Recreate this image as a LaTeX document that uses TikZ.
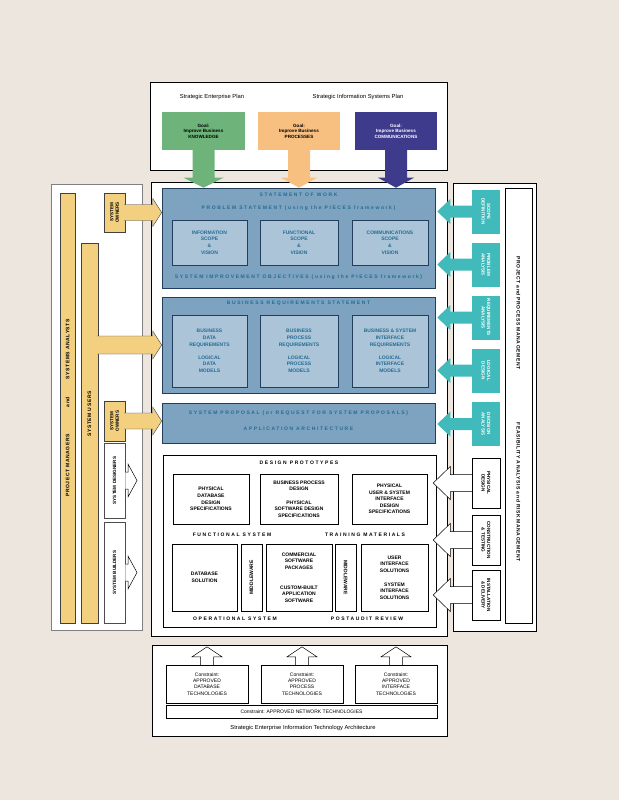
\documentclass[tikz,border=0pt]{standalone}
\usepackage{fontspec}
\setmainfont{Liberation Sans}
\newfontfamily\espace[LetterSpace=32]{Liberation Sans}
\newfontfamily\espacel[LetterSpace=12]{Liberation Sans}
\usetikzlibrary{calc}

\definecolor{cfond}{RGB}{236,230,222}
\definecolor{cjaune}{RGB}{243,207,128}
\definecolor{cvert}{RGB}{110,180,122}
\definecolor{corange}{RGB}{248,192,128}
\definecolor{cviolet}{RGB}{62,58,140}
\definecolor{cbleu}{RGB}{125,163,192}
\definecolor{cbleuclair}{RGB}{172,196,216}
\definecolor{cbleufonce}{RGB}{35,62,92}
\definecolor{ctextebleu}{RGB}{35,108,148}
\definecolor{cteal}{RGB}{64,186,186}

\newcommand{\txtboite}{\bfseries\fontsize{5}{6.6}\selectfont}
\newcommand{\txtpetit}{\bfseries\fontsize{4.6}{5.6}\selectfont}
\newcommand{\txttitre}{\espace\bfseries\fontsize{5}{6}\selectfont}
\newcommand{\txtbarre}{\espacel\bfseries\fontsize{5}{6}\selectfont}
\newcommand{\txtfin}{\fontsize{5}{6.2}\selectfont}
\newcommand{\txtplan}{\fontsize{5.8}{7}\selectfont}

% fleche pleine : depart, pointe, demi-tige, demi-tete, longueur tete
\newcommand{\blocfleche}[6][]{%
\path (#2) coordinate (fa) (#3) coordinate (fb);
\path ($(fb)!#6!(fa)$) coordinate (fh);
\path[#1, draw=none]
($(fa)!#4!90:(fb)$) -- ($(fh)!#4!90:(fb)$) -- ($(fh)!#5!90:(fb)$) -- (fb)
-- ($(fh)!#5!-90:(fb)$) -- ($(fh)!#4!-90:(fb)$) -- ($(fa)!#4!-90:(fb)$) -- cycle;
\path[#1, fill=none]
($(fa)!#4!90:(fb)$) -- ($(fh)!#4!90:(fb)$) -- ($(fh)!#5!90:(fb)$) -- (fb)
-- ($(fh)!#5!-90:(fb)$) -- ($(fh)!#4!-90:(fb)$) -- ($(fa)!#4!-90:(fb)$);
}

\tikzset{
cadre/.style={draw=black, fill=white, line width=0.5pt, inner sep=0pt},
cadregris/.style={draw=black!50, fill=white, line width=0.6pt, inner sep=0pt},
blocbleu/.style={draw=cbleufonce, fill=cbleu, line width=0.6pt, inner sep=0pt},
boitebleue/.style={draw=cbleufonce, fill=cbleuclair, line width=0.6pt, text=ctextebleu, font=\txtboite, align=center, inner sep=0pt},
boite/.style={draw=black, fill=white, line width=0.5pt, font=\txtboite, align=center, inner sep=0pt},
contrainte/.style={draw=black, fill=white, line width=0.4pt, font=\txtfin, align=center, inner sep=0pt},
barre/.style={draw=black!75, fill=cjaune, line width=0.4pt, inner sep=0pt},
bloc/.style={fill=cteal, inner sep=0pt},
but/.style={font=\txtpetit, align=center, inner sep=0pt},
titre/.style={font=\txttitre, inner sep=0pt},
titrebleu/.style={titre, text=ctextebleu},
texteg/.style={font=\txtpetit, align=center, inner sep=0pt, rotate=90},
texted/.style={font=\txtpetit, align=center, inner sep=0pt, rotate=-90},
fjaune/.style={fill=cjaune, draw=black!75, line width=0.4pt},
fteal/.style={fill=cteal, draw=none},
fcreuse/.style={fill=white, draw=black, line width=0.5pt},
}

\begin{document}
\begin{tikzpicture}[x=1pt,y=-1pt]

% Fond
\useasboundingbox (0,0) rectangle (619,800);
\fill[cfond] (0,0) rectangle (619,800);

% Cadres
\node[cadre, minimum width=297, minimum height=88] (plans)
at (298.5,126)
{};
\node[cadre, minimum width=296, minimum height=454] (centre)
at (299,409)
{};
\node[cadregris, minimum width=91, minimum height=446] (gauche)
at (96.5,407)
{};
\node[cadre, minimum width=83, minimum height=448] (droite)
at (494.5,407)
{};
\node[cadre, minimum width=295, minimum height=91] (archi)
at (299.5,690.5)
{};

% Plans
\node[font=\txtplan] (pse)
at (212,97)
{Strategic Enterprise Plan};
\node[font=\txtplan] (psi)
at (358,97)
{Strategic Information Systems Plan};

\node[but, fill=cvert, minimum width=83, minimum height=38] (gvert)
at (203.5,131)
{Goal:\\Improve Business\\KNOWLEDGE};
\node[but, fill=corange, minimum width=82, minimum height=38] (gorange)
at (299,131)
{Goal:\\Improve Business\\PROCESSES};
\node[but, fill=cviolet, text=white, minimum width=82, minimum height=38] (gviolet)
at (396,131)
{Goal:\\Improve Business\\COMMUNICATIONS};

% Statement of work
\node[blocbleu, minimum width=273, minimum height=100] (sow)
at (298.5,238)
{};
\node[titrebleu] (sowt)
at (298.5,195)
{STATEMENT OF WORK};
\node[titrebleu] (pst)
at (298.5,208)
{PROBLEM STATEMENT (using the PIECES framework)};
\node[boitebleue, minimum width=75, minimum height=45] (info)
at (209.5,242.5)
{INFORMATION\\SCOPE\\\&\\VISION};
\node[boitebleue, minimum width=78, minimum height=45] (fonc)
at (299,242.5)
{FUNCTIONAL\\SCOPE\\\&\\VISION};
\node[boitebleue, minimum width=76, minimum height=45] (comm)
at (390,242.5)
{COMMUNICATIONS\\SCOPE\\\&\\VISION};
\node[titrebleu] (sio)
at (298.5,277)
{SYSTEM IMPROVEMENT OBJECTIVES (using the PIECES framework)};

% Business requirements
\node[blocbleu, minimum width=273, minimum height=96] (brs)
at (298.5,345)
{};
\node[titrebleu] (brst)
at (298.5,303)
{BUSINESS REQUIREMENTS STATEMENT};
\node[boitebleue, minimum width=75, minimum height=72] (bdr)
at (209.5,351)
{BUSINESS\\DATA\\REQUIREMENTS\\[6.6pt]LOGICAL\\DATA\\MODELS};
\node[boitebleue, minimum width=78, minimum height=72] (bpr)
at (299,351)
{BUSINESS\\PROCESS\\REQUIREMENTS\\[6.6pt]LOGICAL\\PROCESS\\MODELS};
\node[boitebleue, minimum width=76, minimum height=72] (bsir)
at (390,351)
{BUSINESS \& SYSTEM\\INTERFACE\\REQUIREMENTS\\[6.6pt]LOGICAL\\INTERFACE\\MODELS};

% System proposal
\node[blocbleu, minimum width=273, minimum height=40] (prop)
at (298.5,423)
{};
\node[titrebleu] (propt)
at (298.5,413)
{SYSTEM PROPOSAL (or REQUEST FOR SYSTEM PROPOSALS)};
\node[titrebleu] (aat)
at (298.5,429)
{APPLICATION ARCHITECTURE};

% Fleches des buts
\blocfleche[fill=cvert, draw=none]
{gvert.south}
{gvert.south |- sow.north}
{11pt}{20pt}{10pt}
\blocfleche[fill=corange, draw=none]
{gorange.south}
{gorange.south |- sow.north}
{11pt}{18pt}{10pt}
\blocfleche[fill=cviolet, draw=none]
{gviolet.south}
{gviolet.south |- sow.north}
{11pt}{18pt}{10pt}

% Colonne gauche
\node[barre, minimum width=15, minimum height=430] (pmsa)
at (67.5,408)
{};
\node[texteg, font=\txtbarre] (pmsat)
at (pmsa)
{PROJECT MANAGERS\hspace{27pt}and\hspace{18pt}SYSTEMS ANALYSTS};
\node[barre, minimum width=17, minimum height=380] (users)
at (89.5,433)
{};
\node[texteg, font=\txtbarre] (userst)
at (89.5,414)
{SYSTEM USERS};
\node[barre, minimum width=21, minimum height=39] (so1)
at (114.5,212.5)
{};
\node[texteg] (so1t)
at (so1)
{SYSTEM\\OWNERS};
\node[barre, minimum width=21, minimum height=40] (so2)
at (114.5,421)
{};
\node[texteg] (so2t)
at (so2)
{SYSTEM\\OWNERS};
\node[boite, draw=black!70, minimum width=21, minimum height=75] (sd)
at (114.5,480.5)
{};
\node[texteg] (sdt)
at (sd)
{SYSTEM DESIGNERS};
\node[boite, draw=black!70, minimum width=21, minimum height=101] (sb)
at (114.5,572.5)
{};
\node[texteg] (sbt)
at (sb)
{SYSTEM BUILDERS};
\coordinate (sdtip) at (137,480.5);
\coordinate (sbtip) at (137,572.5);

\blocfleche[fjaune]
{$(so1.east)+(-1,0)$}
{so1.east -| sow.west}
{8pt}{14pt}{9pt}
\blocfleche[fjaune]
{$(users.east |- brs.west)+(-1,0)$}
{brs.west}
{9pt}{14pt}{9pt}
\blocfleche[fjaune]
{$(so2.east)+(-1,0)$}
{so2.east -| prop.west}
{8pt}{14pt}{9pt}
\blocfleche[fcreuse]
{sd.east}
{sdtip}
{8.5pt}{16.5pt}{9pt}
\blocfleche[fcreuse]
{sb.east}
{sbtip}
{8.5pt}{16.5pt}{9pt}

% Design prototypes
\node[cadre, minimum width=273, minimum height=172] (dp)
at (299.5,541)
{};
\node[titre] (dpt)
at (299,463)
{DESIGN PROTOTYPES};
\node[boite, minimum width=76, minimum height=50] (pdb)
at (211,499)
{PHYSICAL\\DATABASE\\DESIGN\\SPECIFICATIONS};
\node[boite, minimum width=78, minimum height=50] (bpd)
at (299,499)
{BUSINESS PROCESS\\DESIGN\\[6.6pt]PHYSICAL\\SOFTWARE DESIGN\\SPECIFICATIONS};
\node[boite, minimum width=75, minimum height=50] (pui)
at (389.5,499)
{PHYSICAL\\USER \& SYSTEM\\INTERFACE\\DESIGN\\SPECIFICATIONS};
\node[titre] (fst)
at (232,535)
{FUNCTIONAL SYSTEM};
\node[titre] (tmt)
at (365,535)
{TRAINING MATERIALS};
\node[boite, minimum width=65, minimum height=67] (dbs)
at (204.5,577.5)
{DATABASE\\SOLUTION};
\node[boite, minimum width=21, minimum height=67] (mw1)
at (251.5,577.5)
{};
\node[texteg, font=\txtboite] (mw1t)
at (mw1)
{MIDDLEWARE};
\node[boite, minimum width=66, minimum height=67] (cots)
at (299,577.5)
{COMMERCIAL\\SOFTWARE\\PACKAGES\\[13pt]CUSTOM-BUILT\\APPLICATION\\SOFTWARE};
\node[boite, minimum width=21, minimum height=67] (mw2)
at (345.5,577.5)
{};
\node[texted, font=\txtboite] (mw2t)
at (mw2)
{MIDDLEWARE};
\node[boite, minimum width=67, minimum height=67] (uis)
at (394.5,577.5)
{USER\\INTERFACE\\SOLUTIONS\\[7pt]SYSTEM\\INTERFACE\\SOLUTIONS};
\node[titre] (ost)
at (235,619)
{OPERATIONAL SYSTEM};
\node[titre] (prt)
at (367,619)
{POSTAUDIT REVIEW};

% Colonne droite
\node[cadre, minimum width=27, minimum height=435] (gestion)
at (518.5,405.5)
{};
\node[texted, font=\txtbarre] (ppmt)
at (518.5,313)
{PROJECT and PROCESS MANAGEMENT};
\node[texted, font=\txtbarre] (farmt)
at (518.5,492)
{FEASIBILITY ANALYSIS and RISK MANAGEMENT};

\node[bloc, minimum width=28, minimum height=44] (scope)
at (486,211.5)
{};
\node[texted, text=white] (scopet)
at (scope)
{SCOPE\\DEFINITION};
\node[bloc, minimum width=28, minimum height=44] (probana)
at (486,264.5)
{};
\node[texted, text=white] (probanat)
at (probana)
{PROBLEM\\ANALYSIS};
\node[bloc, minimum width=28, minimum height=44] (reqana)
at (486,317.5)
{};
\node[texted, text=white] (reqanat)
at (reqana)
{REQUIREMENTS\\ANALYSIS};
\node[bloc, minimum width=28, minimum height=44] (logdes)
at (486,370.5)
{};
\node[texted, text=white] (logdest)
at (logdes)
{LOGICAL\\DESIGN};
\node[bloc, minimum width=28, minimum height=44] (decana)
at (486,424)
{};
\node[texted, text=white] (decanat)
at (decana)
{DECISION\\ANALYSIS};

\blocfleche[fteal]
{scope.west}
{$(scope.west -| sow.east)+(2,0)$}
{6pt}{12.5pt}{13pt}
\blocfleche[fteal]
{probana.west}
{$(probana.west -| sow.east)+(2,0)$}
{6pt}{12.5pt}{13pt}
\blocfleche[fteal]
{reqana.west}
{$(reqana.west -| brs.east)+(2,0)$}
{6pt}{12.5pt}{13pt}
\blocfleche[fteal]
{logdes.west}
{$(logdes.west -| brs.east)+(2,0)$}
{6pt}{12.5pt}{13pt}
\blocfleche[fteal]
{decana.west}
{$(decana.west -| prop.east)+(2,0)$}
{6pt}{12.5pt}{13pt}

\node[boite, minimum width=28, minimum height=50] (physdes)
at (486,483)
{};
\node[texted] (physdest)
at (physdes)
{PHYSICAL\\DESIGN};
\node[boite, minimum width=28, minimum height=50] (constr)
at (486,540)
{};
\node[texted] (constrt)
at (constr)
{CONSTRUCTION\\\& TESTING};
\node[boite, minimum width=28, minimum height=50] (install)
at (486,595)
{};
\node[texted] (installt)
at (install)
{INSTALLATION\\\& DELIVERY};

\blocfleche[fcreuse]
{physdes.west}
{$(physdes.west -| dp.east)+(-3,0)$}
{8.5pt}{16.5pt}{17pt}
\blocfleche[fcreuse]
{constr.west}
{$(constr.west -| dp.east)+(-3,0)$}
{8.5pt}{16.5pt}{17pt}
\blocfleche[fcreuse]
{install.west}
{$(install.west -| dp.east)+(-3,0)$}
{8.5pt}{16.5pt}{17pt}

% Architecture
\node[contrainte, minimum width=82, minimum height=38] (cdb)
at (207,684)
{Constraint:\\APPROVED\\DATABASE\\TECHNOLOGIES};
\node[contrainte, minimum width=82, minimum height=38] (cproc)
at (302,684)
{Constraint:\\APPROVED\\PROCESS\\TECHNOLOGIES};
\node[contrainte, minimum width=82, minimum height=38] (cint)
at (396,684)
{Constraint:\\APPROVED\\INTERFACE\\TECHNOLOGIES};
\node[contrainte, minimum width=271, minimum height=13] (reseau)
at (301.5,711.5)
{Constraint: APPROVED NETWORK TECHNOLOGIES};
\node[font=\txtplan] (seita)
at (303,728)
{Strategic Enterprise Information Technology Architecture};

\blocfleche[fcreuse]
{cdb.north}
{$(cdb.north)+(0,-18)$}
{6.5pt}{15pt}{10pt}
\blocfleche[fcreuse]
{cproc.north}
{$(cproc.north)+(0,-18)$}
{6.5pt}{15pt}{10pt}
\blocfleche[fcreuse]
{cint.north}
{$(cint.north)+(0,-18)$}
{6.5pt}{15pt}{10pt}

\end{tikzpicture}
\end{document}
